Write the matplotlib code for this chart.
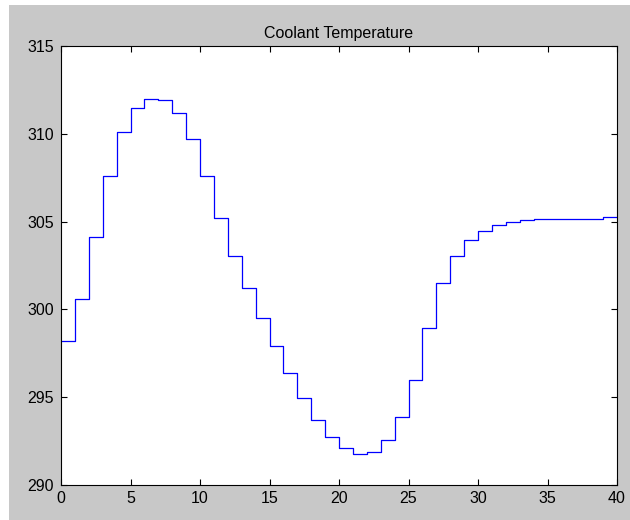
"""
Coolant temperature step response (stairs plot, MATLAB style)
"""

import matplotlib
matplotlib.use('Agg')
import matplotlib.pyplot as plt
from matplotlib.patches import Rectangle

# sample times (one value per step, last point closes the final step)
time = list(range(0, 41))
coolant_temp = [
    298.18, 300.59, 304.13, 307.57, 310.10, 311.47, 311.98, 311.92, 311.18, 309.71,
    307.57, 305.20, 303.02, 301.20, 299.51, 297.91, 296.37, 294.95, 293.73, 292.76,
    292.12, 291.74, 291.88, 292.55, 293.86, 295.99, 298.92, 301.48, 303.02, 303.97,
    304.49, 304.79, 304.98, 305.07, 305.13, 305.15, 305.15, 305.15, 305.15, 305.24,
    305.24,
]
x_ticks = [0, 5, 10, 15, 20, 25, 30, 35, 40]
y_ticks = [290, 295, 300, 305, 310, 315]

plt.rcParams['font.family'] = ['Liberation Sans', 'DejaVu Sans']

fig = plt.figure(figsize=(6.3, 5.2), dpi=100, facecolor='white')
# grey figure panel (white strip on left and top like the screenshot)
fig.patches.append(Rectangle((9 / 630, 0), 1, 1 - 5 / 520, transform=fig.transFigure,
                             facecolor='#c8c8c8', edgecolor='none', zorder=-1))

ax = fig.add_axes([61 / 630, 35 / 520, 556 / 630, 439 / 520])
ax.plot(time, coolant_temp, drawstyle='steps-post', color='blue', linewidth=0.9)

ax.set_xlim(0, 40)
ax.set_ylim(290, 315)
ax.set_xticks(x_ticks)
ax.set_yticks(y_ticks)
ax.tick_params(direction='in', top=True, right=True, length=4, width=0.8,
               labelsize=11.5)
ax.tick_params(axis='x', pad=4)
ax.tick_params(axis='y', pad=5)
for side in ax.spines.values():
    side.set_linewidth(0.8)
ax.set_title('Coolant Temperature', fontsize=11.5, pad=6)

fig.savefig('out.png', dpi=100, facecolor=fig.get_facecolor())
